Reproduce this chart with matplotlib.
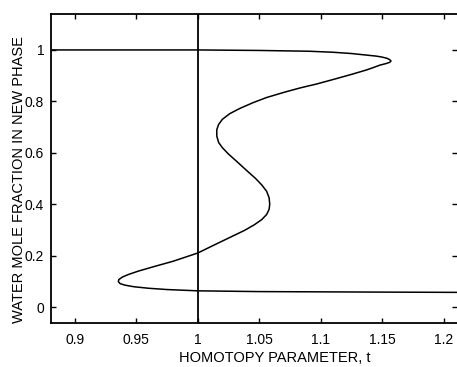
import numpy as np
from matplotlib import pyplot as plt

plt.rcParams['font.family'] = ['Liberation Sans', 'DejaVu Sans']

# homotopy path (t, water mole fraction)
t_path = [0.88, 0.95, 1.0, 1.05, 1.09, 1.11, 1.125, 1.137, 1.145, 1.150, 1.154,
          1.156, 1.157, 1.156, 1.153, 1.148, 1.143, 1.137, 1.125, 1.11, 1.097,
          1.083, 1.07, 1.056, 1.045, 1.034, 1.026, 1.020, 1.017, 1.0155, 1.0155,
          1.017, 1.020, 1.025, 1.032, 1.040, 1.047, 1.052, 1.056, 1.058, 1.0585,
          1.058, 1.056, 1.052, 1.046, 1.038, 1.028, 1.015, 1.0, 0.98, 0.965,
          0.952, 0.944, 0.939, 0.936, 0.9355, 0.937, 0.941, 0.948, 0.96, 0.975,
          0.99, 1.0, 1.05, 1.1, 1.15, 1.21]
x_path = [1.0, 1.0, 1.0, 0.998, 0.995, 0.991, 0.986, 0.980, 0.976, 0.972, 0.967,
          0.962, 0.957, 0.952, 0.947, 0.941, 0.932, 0.922, 0.905, 0.885, 0.868,
          0.852, 0.835, 0.815, 0.795, 0.772, 0.752, 0.73, 0.71, 0.69, 0.665,
          0.64, 0.62, 0.595, 0.565, 0.53, 0.50, 0.475, 0.45, 0.425, 0.40,
          0.38, 0.36, 0.34, 0.32, 0.298, 0.275, 0.245, 0.21, 0.178, 0.158,
          0.14, 0.127, 0.117, 0.107, 0.099, 0.091, 0.085, 0.079, 0.073, 0.068,
          0.065, 0.063, 0.060, 0.059, 0.058, 0.057]

xticks = [0.9, 0.95, 1.0, 1.05, 1.1, 1.15, 1.2]
xtick_labels = ['0.9', '0.95', '1', '1.05', '1.1', '1.15', '1.2']
yticks = [0, 0.2, 0.4, 0.6, 0.8, 1.0]
ytick_labels = ['0', '0.2', '0.4', '0.6', '0.8', '1']

fig = plt.figure(figsize=(4.57, 3.67), dpi=100)
ax = fig.add_axes([0.112, 0.12, 0.888, 0.842])

ax.plot(t_path, x_path, color='black', lw=1.1)
ax.axvline(1.0, color='black', lw=1.3)

ax.set_xlim(0.881, 1.2106)
ax.set_ylim(-0.062, 1.14)
ax.set_xticks(xticks)
ax.set_xticklabels(xtick_labels)
ax.set_yticks(yticks)
ax.set_yticklabels(ytick_labels)
ax.tick_params(direction='in', top=True, right=True, length=3.5, width=1,
               labelsize=10, pad=5)
ax.tick_params(axis='x', pad=7)
ax.spines['right'].set_visible(False)
for s in ['left', 'top', 'bottom']:
    ax.spines[s].set_linewidth(1.3)

ax.set_xlabel('HOMOTOPY PARAMETER, t', fontsize=10.5)
ax.set_ylabel('WATER MOLE FRACTION IN NEW PHASE', fontsize=10.5)
ax.xaxis.set_label_coords(0.55, -0.09)
ax.yaxis.set_label_coords(-0.063, 0.463)

fig.savefig('out.png', dpi=100)
